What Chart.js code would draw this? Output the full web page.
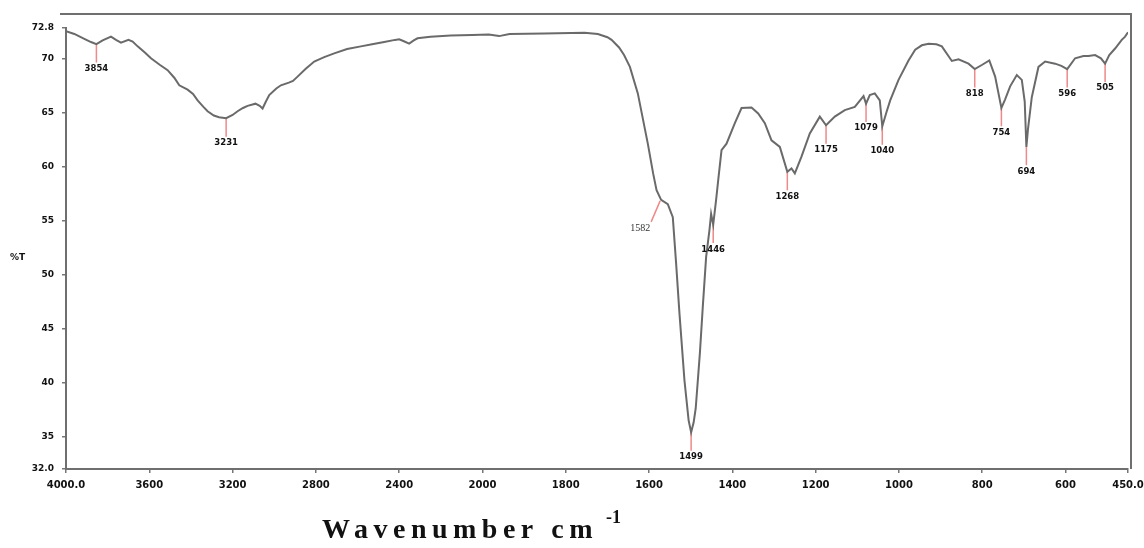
<!DOCTYPE html>
<html><head><meta charset="utf-8">
<script src="https://cdn.jsdelivr.net/npm/chart.js@4/dist/chart.umd.min.js"></script>
<style>html,body{margin:0;padding:0;background:#fff}#wrap{width:1144px;height:548px}</style>
</head><body><div id="wrap"><canvas id="c" width="1144" height="548"></canvas></div>
<script>
const wavenumbers = [
 4000,3960,3912,3880,3854,3824,3784,3760,3736,3700,3680,3656,3620,3592,3550,3512,3480,3456,3416,3390,
 3368,3340,3320,3290,3265,3231,3200,3176,3150,3128,3090,3070,3056,3040,3024,2990,2968,2930,2910,2888,
 2850,2808,2760,2712,2650,2584,2530,2472,2420,2400,2380,2352,2330,2312,2250,2152,2050,1985,1960,1935,
 1852,1755,1723,1700,1690,1672,1660,1646,1627,1603,1590,1582,1571,1555,1543,1535,1527,1515,1505,1499,
 1493,1488,1478,1471,1463,1455,1451,1446,1439,1434,1426,1414,1394,1378,1354,1338,1322,1306,1286,1268,
 1258,1250,1234,1214,1190,1175,1154,1130,1106,1085,1079,1070,1058,1046,1040,1030,1021,1001,977,961,
 945,929,910,897,873,857,833,818,800,783,769,754,745,733,717,705,698,694,690,681,
 665,649,625,610,596,577,557,545,529,515,505,495,481,465,457,450
];
const transmittance = [
 72.5,72.25,71.8,71.5,71.3,71.65,72.0,71.7,71.45,71.7,71.55,71.1,70.5,70.0,69.4,68.9,68.2,67.5,67.1,66.7,
 66.1,65.5,65.1,64.7,64.55,64.45,64.75,65.1,65.4,65.6,65.8,65.6,65.35,66.0,66.6,67.2,67.5,67.75,67.9,68.3,
 69.0,69.7,70.1,70.45,70.85,71.1,71.3,71.5,71.7,71.75,71.6,71.35,71.65,71.85,72.0,72.1,72.15,72.2,72.05,72.25,
 72.3,72.37,72.25,71.95,71.7,71.0,70.3,69.2,66.75,62.1,59.3,57.8,56.9,56.5,55.3,51.0,46.4,40.2,36.5,35.4,
 36.3,37.6,42.7,47.0,51.6,54.1,55.6,54.6,56.9,58.7,61.5,62.1,64.0,65.4,65.45,64.9,64.0,62.4,61.8,59.5,
 59.8,59.35,60.9,63.05,64.6,63.8,64.6,65.2,65.5,66.5,65.8,66.6,66.75,66.1,63.7,65.0,66.1,68.0,69.8,70.8,
 71.2,71.35,71.3,71.1,69.75,69.9,69.5,69.0,69.4,69.8,68.3,65.4,66.2,67.4,68.45,68.0,66.0,61.8,63.5,66.4,
 69.2,69.7,69.5,69.3,69.0,70.0,70.2,70.2,70.3,70.0,69.5,70.3,70.9,71.7,72.0,72.4
];
const xTickValues = [4000,3600,3200,2800,2400,2000,1800,1600,1400,1200,1000,800,600,450];
const yTickValues = [32,35,40,45,50,55,60,65,70,72.8];
const peakWavenumbers = [3854,3231,1499,1446,1268,1175,1079,1040,818,754,694,596,505];
const shoulderWavenumber = 1571;
const shoulderLabel = "1582";

// piecewise wavenumber axis: 400 cm-1 per division above 2000, 200 cm-1 per division below
function toAxis(w){ return w > 2000 ? 2000 + (w - 2000) / 2 : w; }
function fromAxis(u){ return u > 2000 ? 2000 + (u - 2000) * 2 : u; }
function valueAt(w){ return transmittance[wavenumbers.indexOf(w)]; }

const peakValues = peakWavenumbers.map(valueAt);
const MARK = 1.7;

const datasets = [{
  data: wavenumbers.map((w, i) => ({x: toAxis(w), y: transmittance[i]})),
  borderColor: '#6a6a6a', borderWidth: 2, pointRadius: 0, tension: 0, order: 0
}];
peakWavenumbers.forEach((w, i) => {
  datasets.push({
    data: [{x: toAxis(w), y: peakValues[i]}, {x: toAxis(w), y: peakValues[i] - MARK}],
    borderColor: '#ee8a8a', borderWidth: 1.5, pointRadius: 0, order: 1
  });
});

const decor = {
  id: 'decor',
  afterDraw(chart) {
    const ctx = chart.ctx, xs = chart.scales.x, ys = chart.scales.y, a = chart.chartArea;
    ctx.save();
    ctx.strokeStyle = '#6f6f6f'; ctx.lineWidth = 2;
    ctx.beginPath(); ctx.moveTo(60, 14); ctx.lineTo(a.right + 3, 14); ctx.lineTo(a.right + 3, a.bottom); ctx.stroke();
    ctx.fillStyle = '#111'; ctx.font = 'bold 8.5px "DejaVu Sans"'; ctx.textAlign = 'center'; ctx.textBaseline = 'top';
    peakWavenumbers.forEach((w, i) => {
      const px = xs.getPixelForValue(toAxis(w)), py = ys.getPixelForValue(peakValues[i] - MARK);
      ctx.fillText(String(w), px, py + 2);
    });
    const sx = xs.getPixelForValue(toAxis(shoulderWavenumber)), sy = ys.getPixelForValue(valueAt(shoulderWavenumber));
    ctx.strokeStyle = '#ee8a8a'; ctx.lineWidth = 1.5;
    ctx.beginPath(); ctx.moveTo(sx - 1, sy + 1); ctx.lineTo(sx - 10, sy + 22); ctx.stroke();
    ctx.fillStyle = '#333'; ctx.font = '10px "Liberation Serif"';
    ctx.fillText(shoulderLabel, sx - 21, sy + 24);
    ctx.fillStyle = '#111'; ctx.font = 'bold 9px "DejaVu Sans"'; ctx.textAlign = 'left'; ctx.textBaseline = 'middle';
    ctx.fillText('%T', 10, 258);
    ctx.font = 'bold 28px "Liberation Serif"'; ctx.textBaseline = 'alphabetic';
    ctx.letterSpacing = '5.5px';
    ctx.fillText('Wavenumber cm', 322, 538);
    const wdt = ctx.measureText('Wavenumber cm').width;
    ctx.letterSpacing = '0px';
    ctx.font = 'bold 18px "Liberation Serif"';
    ctx.fillText('-1', 322 + wdt + 8, 523);
    ctx.restore();
  }
};

new Chart(document.getElementById('c'), {
  type: 'line',
  data: {datasets},
  options: {
    responsive: false, animation: false,
    layout: {padding: {top: 28, right: 0, bottom: 0, left: 0}},
    plugins: {legend: {display: false}, tooltip: {enabled: false}},
    scales: {
      x: {
        type: 'linear', reverse: true, min: 450, max: 3000,
        afterBuildTicks: s => { s.ticks = xTickValues.map(w => ({value: toAxis(w)})); },
        afterFit: s => { s.height = 79; s.paddingRight = 16; s.paddingLeft = 0; },
        ticks: {
          autoSkip: false, maxRotation: 0, padding: 6, color: '#111',
          font: {family: 'DejaVu Sans', size: 10, weight: 'bold'},
          callback: v => { const w = Math.round(fromAxis(v)); return (w === 4000 || w === 450) ? w.toFixed(1) : String(w); }
        },
        grid: {drawOnChartArea: false, tickLength: 4, color: '#777', lineWidth: 1.5},
        border: {color: '#6f6f6f', width: 2}
      },
      y: {
        min: 32, max: 72.8,
        afterBuildTicks: s => { s.ticks = yTickValues.map(v => ({value: v})); },
        afterFit: s => { s.width = 66; },
        ticks: {
          padding: 8, color: '#111',
          font: {family: 'DejaVu Sans', size: 9, weight: 'bold'},
          callback: v => (v === 32 || v === 72.8) ? v.toFixed(1) : String(v)
        },
        grid: {drawOnChartArea: false, tickLength: 4, color: '#777', lineWidth: 1.5},
        border: {color: '#6f6f6f', width: 2}
      }
    }
  },
  plugins: [decor]
});
</script>
</body></html>
